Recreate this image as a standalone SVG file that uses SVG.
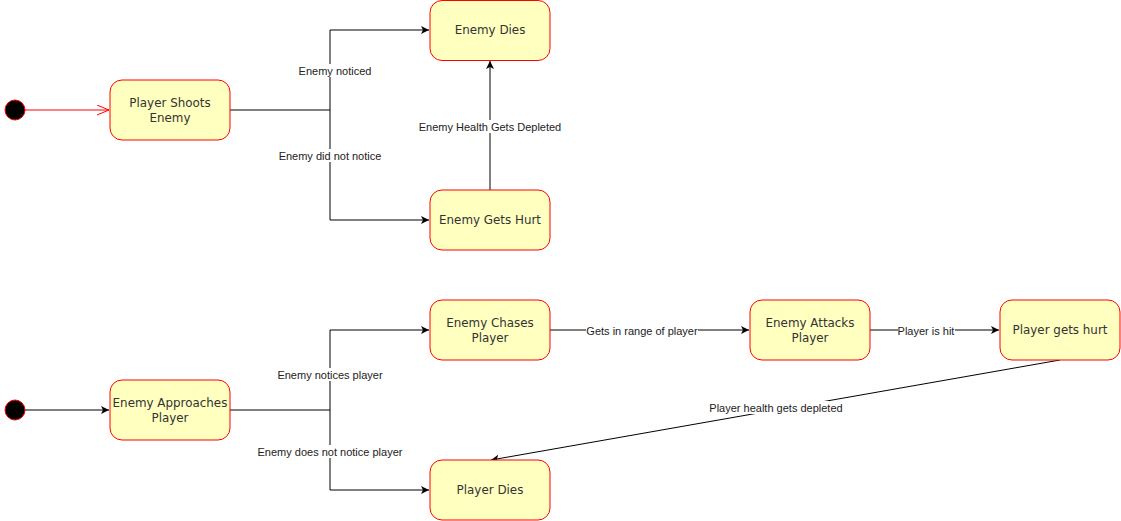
<svg xmlns="http://www.w3.org/2000/svg" width="1121" height="521" viewBox="0 0 1121 521">
<style>
.node rect{fill:#FFFFC0;stroke:#FF0000;stroke-width:1}
.node text{font-family:"DejaVu Sans",Verdana,sans-serif;font-size:11.9px;fill:#333;text-anchor:middle}
.start{fill:#000;stroke:#FF0000;stroke-width:1}
.edge{fill:none;stroke:#000;stroke-width:1}
.lbl{font-family:"Liberation Sans",Arial,sans-serif;font-size:11px;fill:#222;text-anchor:middle}
.lblbg{fill:#fff}
</style>
<defs>
<marker id="arr" markerWidth="10" markerHeight="10" refX="8" refY="4" orient="auto" markerUnits="userSpaceOnUse">
<path d="M0,0 L8,4 L0,8 L2,4 Z" fill="#000"/>
</marker>
<marker id="open" markerWidth="14" markerHeight="12" refX="12" refY="5" orient="auto" markerUnits="userSpaceOnUse">
<path d="M0,0 L12,5 L0,10" fill="none" stroke="#FF0000" stroke-width="1"/>
</marker>
</defs>
<g id="connectors">
<path class="edge" d="M25,110 L109,110" style="stroke:#FF0000" marker-end="url(#open)"/>
<path class="edge" d="M230,110 L330,110 L330,30 L429,30" marker-end="url(#arr)"/>
<path class="edge" d="M330,110 L330,220 L429,220" marker-end="url(#arr)"/>
<path class="edge" d="M490,190 L490,61" marker-end="url(#arr)"/>
<path class="edge" d="M25,410 L109,410" marker-end="url(#arr)"/>
<path class="edge" d="M230,410 L330,410 L330,330 L429,330" marker-end="url(#arr)"/>
<path class="edge" d="M330,410 L330,490 L429,490" marker-end="url(#arr)"/>
<path class="edge" d="M550,330 L749,330" marker-end="url(#arr)"/>
<path class="edge" d="M870,330 L999,330" marker-end="url(#arr)"/>
<path class="edge" d="M1060,360 L491,460" marker-end="url(#arr)"/>
<rect class="lblbg" x="298" y="64" width="74" height="13"/>
<text class="lbl" x="335" y="75">Enemy noticed</text>
<rect class="lblbg" x="279" y="149" width="103" height="13"/>
<text class="lbl" x="330" y="160">Enemy did not notice</text>
<rect class="lblbg" x="419" y="120" width="143" height="13"/>
<text class="lbl" x="490" y="131">Enemy Health Gets Depleted</text>
<rect class="lblbg" x="277" y="368" width="106" height="13"/>
<text class="lbl" x="330" y="379">Enemy notices player</text>
<rect class="lblbg" x="257" y="445" width="146" height="13"/>
<text class="lbl" x="330" y="456">Enemy does not notice player</text>
<rect class="lblbg" x="586" y="324" width="112" height="13"/>
<text class="lbl" x="642" y="335">Gets in range of player</text>
<rect class="lblbg" x="898" y="324" width="57" height="13"/>
<text class="lbl" x="926" y="335">Player is hit</text>
<rect class="lblbg" x="709" y="401" width="135" height="13"/>
<text class="lbl" x="776" y="412">Player health gets depleted</text>
</g>
<g id="start1"><circle class="start" cx="15" cy="110" r="10"/></g>
<g id="start2"><circle class="start" cx="15" cy="410" r="10"/></g>
<g id="player-shoots-enemy" class="node"><rect x="110" y="80" width="120" height="60" rx="12"/><text x="170" y="107">Player Shoots</text><text x="170" y="122">Enemy</text></g>
<g id="enemy-dies" class="node"><rect x="430" y="0.5" width="120" height="60" rx="12"/><text x="490" y="34">Enemy Dies</text></g>
<g id="enemy-gets-hurt" class="node"><rect x="430" y="190" width="120" height="60" rx="12"/><text x="490" y="224">Enemy Gets Hurt</text></g>
<g id="enemy-approaches-player" class="node"><rect x="110" y="380" width="120" height="60" rx="12"/><text x="170" y="407">Enemy Approaches</text><text x="170" y="422">Player</text></g>
<g id="enemy-chases-player" class="node"><rect x="430" y="300" width="120" height="60" rx="12"/><text x="490" y="327">Enemy Chases</text><text x="490" y="342">Player</text></g>
<g id="enemy-attacks-player" class="node"><rect x="750" y="300" width="120" height="60" rx="12"/><text x="810" y="327">Enemy Attacks</text><text x="810" y="342">Player</text></g>
<g id="player-gets-hurt" class="node"><rect x="1000" y="300" width="120" height="60" rx="12"/><text x="1060" y="334">Player gets hurt</text></g>
<g id="player-dies" class="node"><rect x="430" y="460" width="120" height="60" rx="12"/><text x="490" y="494">Player Dies</text></g>
</svg>
